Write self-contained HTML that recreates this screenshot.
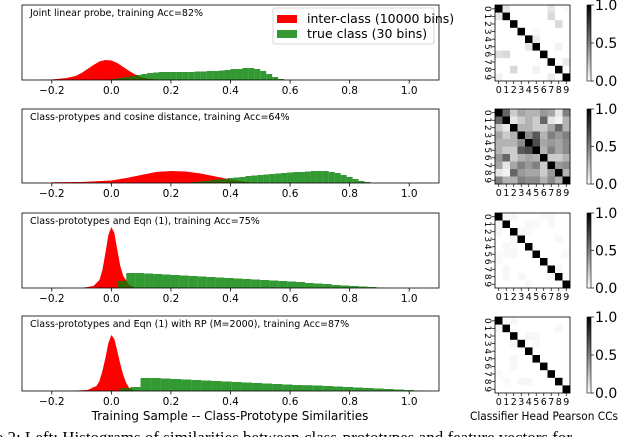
<!DOCTYPE html>
<html><head><meta charset="utf-8">
<style>
html,body{margin:0;padding:0;background:#fff;width:640px;height:437px;overflow:hidden}
svg{display:block;font-family:"DejaVu Sans","Liberation Sans",sans-serif}
</style></head>
<body>
<svg id="fig" width="640" height="437" viewBox="0 0 640 437"></svg>
<script>
// ---- data ----
const panelTitles = ["Joint linear probe, training Acc=82%","Class-protypes and cosine distance, training Acc=64%","Class-prototypes and Eqn (1), training Acc=75%","Class-prototypes and Eqn (1) with RP (M=2000), training Acc=87%"];
const xTicks = [-0.2,0.0,0.2,0.4,0.6,0.8,1.0];
const xTickLabels = ["\u22120.2","0.0","0.2","0.4","0.6","0.8","1.0"];
const greenStart = [-0.02,0.27,0.02,0.03];
const greenWidth = [0.02,0.02,0.03,0.034];
const green1 = [0.5,1,2,3,4,5,6,7,7.5,8,8,8,8,8,8,8.5,8.5,9,9,9.5,10,11,11,12,12,11,9,6,3,1];
const green2 = [1,1.5,2,3,3.5,4,5,5.5,6,7,7.5,8,8.5,9,9.5,10,10.5,11,11,11.5,12,12,12,11,10,8,6,4,2,1];
const green3 = [7,15,15,14.5,14,13.5,13,12.5,12,11.5,11,10.5,10,9.5,9,8.5,8,7.5,7,6.5,6,5,4.5,4,3,2.5,2,1.5,1,0.5];
const green4 = [3,4,13,13,12.5,12,11.5,11,10.5,10,9.5,9,8.5,8,7.5,7,6.5,6,5.8,5.5,5,4.5,4,3.5,3,2.5,2,1.5,1,0.5];
const redX1 = [-0.25,-0.2,-0.15,-0.12,-0.1,-0.08,-0.06,-0.04,-0.02,0,0.02,0.04,0.06,0.08,0.1,0.12,0.15,0.2];
const redY1 = [0,0.5,2,4,7,11,15,18.5,20,19.5,17,13,9,5.5,3,1.5,0.5,0];
const redX2 = [-0.2,-0.1,0,0.05,0.1,0.15,0.2,0.25,0.3,0.35,0.4,0.45,0.5];
const redY2 = [0.8,1,2.5,5,8,11,12,11.5,9.5,6.5,3.5,1,0];
const redX3 = [-0.1,-0.06,-0.04,-0.03,-0.02,-0.01,0,0.01,0.02,0.03,0.04,0.06,0.08];
const redY3 = [0,2,8,18,35,53,61,55,38,22,12,3,0];
const redX4 = [-0.15,-0.08,-0.05,-0.04,-0.03,-0.02,-0.01,0,0.01,0.02,0.03,0.04,0.05,0.06,0.08];
const redY4 = [0,1,5,10,20,33,48,56,52,40,27,16,8,3,0];
const cm1 = [
[1,.1,0,0,0,0,0,.1,0,.02],
[.1,1,0,0,0,0,0,.15,0,0],
[0,0,1,0,0,0,0,0,.15,0],
[0,0,0,1,0,.02,0,0,0,0],
[0,0,0,0,1,.08,0,0,0,0],
[0,0,0,0,.1,1,0,0,.05,0],
[.12,.15,0,0,0,0,1,0,0,0],
[0,0,0,0,0,0,0,1,0,.08],
[0,0,.15,0,0,.05,0,0,1,0],
[.05,0,0,0,0,0,0,.08,0,1]];
const cm2 = [
[1,.6,.2,.35,.3,.3,.4,.35,.1,.5],
[.6,1,.1,.2,.3,.2,.6,.1,.05,.3],
[.2,.1,1,.3,.3,.2,.2,.35,.6,.3],
[.35,.2,.3,1,.45,.65,.3,.5,.4,.5],
[.3,.3,.3,.45,1,.7,.35,.4,.35,.45],
[.3,.2,.2,.65,.7,1,.3,.5,.35,.45],
[.4,.6,.2,.3,.35,.3,1,.2,.2,.3],
[.35,.1,.35,.5,.4,.5,.2,1,.4,.45],
[.1,.05,.6,.4,.35,.35,.2,.4,1,.3],
[.5,.3,.3,.5,.45,.45,.3,.45,.3,1]];
const cm3 = [
[1,.02,.03,0,0,0,.02,.03,0,0],
[.02,1,0,0,.03,.02,0,.03,0,0],
[.03,0,1,.03,.02,0,0,0,0,0],
[0,0,.03,1,0,0,0,0,.03,0],
[0,.03,.02,0,1,0,0,0,0,0],
[.02,.02,.03,0,0,1,0,0,0,.02],
[.02,0,0,0,0,0,1,0,0,0],
[0,.03,0,0,0,0,0,1,.03,0],
[0,.03,0,.03,0,0,0,.03,1,0],
[0,0,0,0,.03,0,0,0,0,1]];
const cm4 = [
[1,.02,.03,0,0,0,0,0,0,0],
[.02,1,0,0,0,0,0,0,.03,0],
[0,0,1,0,.03,.03,0,0,0,0],
[0,0,.03,1,0,.02,0,0,0,0],
[0,0,0,0,1,0,0,0,0,0],
[0,0,.03,0,0,1,0,0,0,0],
[0,0,.03,0,0,0,1,0,0,0],
[.02,0,0,0,0,0,0,1,0,0],
[0,.02,0,.03,.03,0,0,0,1,0],
[0,0,0,0,0,0,0,0,0,1]];
const cbTicks = [0.0,0.5,1.0];

const greens=[green1,green2,green3,green4];
const redXs=[redX1,redX2,redX3,redX4], redYs=[redY1,redY2,redY3,redY4];
const mats=[cm1,cm2,cm3,cm4];
const panelTop=[5,109,213,316], panelBot=[80,183,288,391];
const hmTop=[5,109,213,317], hmBot=[81,184,288,393];

const NS="http://www.w3.org/2000/svg";
const svg=document.getElementById('fig');
function mk(tag,attrs,parent,text){const e=document.createElementNS(NS,tag);for(const k in attrs)e.setAttribute(k,attrs[k]);if(text!==undefined)e.textContent=text;(parent||svg).appendChild(e);return e;}

const X0=22,X1=439,XMIN=-0.3,XMAX=1.1;
const xs=v=>X0+(v-XMIN)/(XMAX-XMIN)*(X1-X0);

for(let p=0;p<4;p++){
  const g=mk('g',{});
  
  
  const bot=panelBot[p];
  const ys=v=>bot-v;
  let d='M'+xs(redXs[p][0])+','+bot;
  redXs[p].forEach((x,i)=>{d+=' L'+xs(x).toFixed(2)+','+ys(redYs[p][i]).toFixed(2);});
  d+=' L'+xs(redXs[p][redXs[p].length-1])+','+bot+' Z';
  const r=mk('path',{d:d,fill:'#ff0000'},g);
  
  
  greens[p].forEach((h,i)=>{
    const a=greenStart[p]+i*greenWidth[p], b=a+greenWidth[p];
    const rc=mk('rect',{x:xs(a),y:ys(h),width:xs(b)-xs(a),height:h,fill:'#008000','fill-opacity':0.8},g);
    
    
  });
  mk('rect',{x:X0,y:panelTop[p],width:X1-X0,height:bot-panelTop[p],fill:'none',stroke:'#000','stroke-width':0.8},g);
  const t=mk('text',{x:30,y:panelTop[p]+11,'font-size':9.5},g,panelTitles[p]);
  
  
  xTicks.forEach((v,i)=>{
    mk('line',{x1:xs(v),x2:xs(v),y1:bot,y2:bot+3.5,stroke:'#000','stroke-width':0.8},g);
    const tl=mk('text',{x:xs(v),y:bot+14,'font-size':10.5,'text-anchor':'middle'},g,xTickLabels[i]);
    
    
  });

  const hg=mk('g',{});
  
  
  const hx0=495,hx1=570,hy0=hmTop[p],hy1=hmBot[p];
  const cw=(hx1-hx0)/10,ch=(hy1-hy0)/10;
  mats[p].forEach((row,i)=>row.forEach((v,j)=>{
    const c=Math.round(255*(1-v));
    const cell=mk('rect',{x:hx0+j*cw,y:hy0+i*ch,width:cw+0.3,height:ch+0.3,fill:`rgb(${c},${c},${c})`},hg);
    
    
  }));
  mk('rect',{x:hx0,y:hy0,width:hx1-hx0,height:hy1-hy0,fill:'none',stroke:'#000','stroke-width':0.8},hg);
  for(let k=0;k<10;k++){
    mk('line',{x1:hx0+(k+0.5)*cw,x2:hx0+(k+0.5)*cw,y1:hy1,y2:hy1+3,stroke:'#000','stroke-width':0.7},hg);
    mk('text',{x:hx0+(k+0.5)*cw,y:hy1+12,'font-size':9.5,'text-anchor':'middle'},hg,String(k));
    mk('line',{x1:hx0-3,x2:hx0,y1:hy0+(k+0.5)*ch,y2:hy0+(k+0.5)*ch,stroke:'#000','stroke-width':0.7},hg);
    mk('text',{x:0,y:0,'font-size':9,'text-anchor':'middle',transform:`translate(${hx0-7},${hy0+(k+0.5)*ch}) rotate(90)`,dy:3},hg,String(k));
  }
  const cb=mk('g',{});
  
  
  const gid='cbg'+p;
  const lg=mk('linearGradient',{id:gid,x1:0,y1:0,x2:0,y2:1},cb);
  mk('stop',{offset:0,'stop-color':'#000'},lg);mk('stop',{offset:1,'stop-color':'#fff'},lg);
  const cx=587,cwid=4;
  mk('rect',{x:cx,y:hy0,width:cwid,height:hy1-hy0,fill:`url(#${gid})`,stroke:'#000','stroke-width':0.6},cb);
  cbTicks.forEach(v=>{
    const yy=hy1-v*(hy1-hy0);
    mk('line',{x1:cx+cwid,x2:cx+cwid+3,y1:yy,y2:yy,stroke:'#000','stroke-width':0.7},cb);
    mk('text',{x:cx+cwid+4,y:yy+5,'font-size':14},cb,v.toFixed(1));
  });
}
const leg=mk('g',{});


mk('rect',{x:273,y:8,width:161,height:36,rx:2,fill:'#fff','fill-opacity':0.85,stroke:'#ccc','stroke-width':0.8},leg);
mk('rect',{x:277,y:15,width:20,height:8,fill:'#ff0000'},leg);
mk('text',{x:307,y:23,'font-size':12.5},leg,'inter-class (10000 bins)');
mk('rect',{x:277,y:30,width:20,height:8,fill:'#008000','fill-opacity':0.8},leg);
mk('text',{x:307,y:38,'font-size':12.5},leg,'true class (30 bins)');
const xl=mk('text',{x:230,y:420,'font-size':12,'text-anchor':'middle'},svg,'Training Sample -- Class-Prototype Similarities');


const hl=mk('text',{x:470,y:420,'font-size':11.5,textLength:148,lengthAdjust:'spacingAndGlyphs'},svg,'Classifier Head Pearson CCs');


const cap=mk('text',{x:-10,y:443,'font-size':17,'font-family':'Liberation Serif, serif'},svg,'re 2: Left: Histograms of similarities between class-prototypes and feature vectors for');


</script>
</body></html>
